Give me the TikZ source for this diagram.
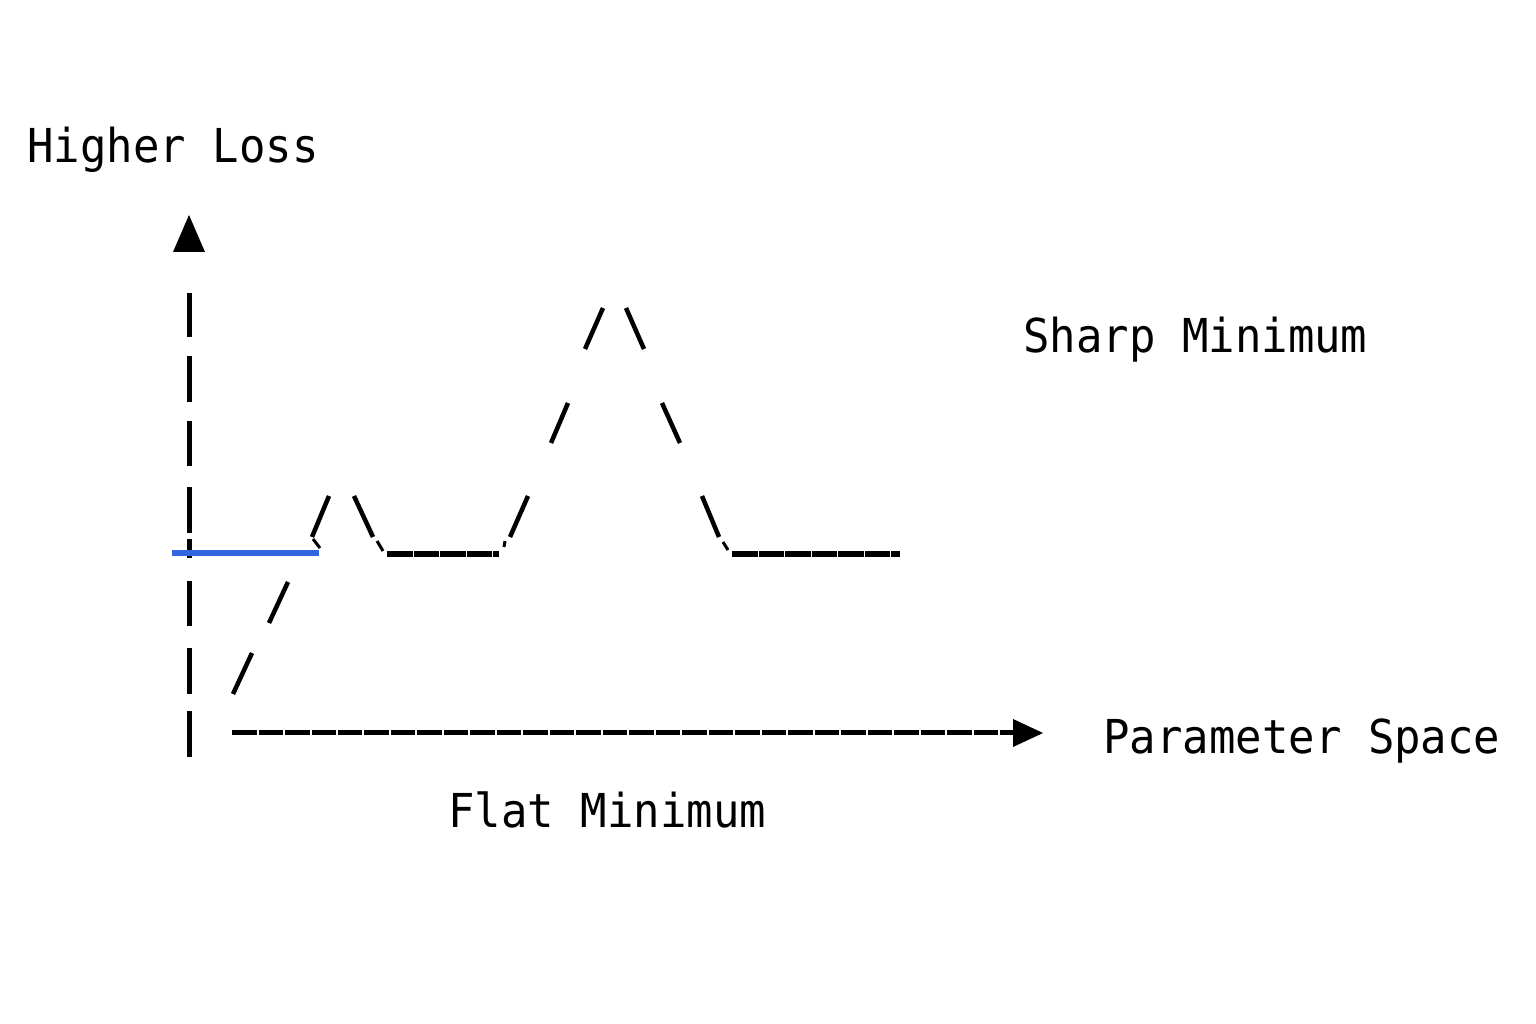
\documentclass[tikz,border=0pt]{standalone}
\usepackage{fontspec}
\setmonofont[FakeStretch=0.94]{DejaVu Sans Mono}
\definecolor{flatblue}{RGB}{50,102,222}
\begin{document}
\begin{tikzpicture}[x=0.1mm,y=-0.1mm,line width=0.5mm,
    txt/.style={font=\ttfamily\fontsize{13.3}{16}\selectfont,inner sep=0,anchor=base west},
    chars/.style={dash pattern=on 2.45mm off 0.2mm},
    lows/.style={line width=0.55mm,dash pattern=on 2.57mm off 0.08mm},
    tick/.style={line width=0.3mm}]
    \useasboundingbox (0,0) rectangle (1536,1024);
    % axes
    \foreach \a/\b in {293/337,356/402,421/466,487/533,539/558,581/626,648/694,711/757} \draw (189,\a)--(189,\b);
    \fill (189,215)--(205,252)--(173,252)--cycle;
    \draw[chars] (232,733)--(1015,733);
    \fill (1043,733)--(1013,719)--(1013,747)--cycle;
    % landscape
    \draw[flatblue,line width=0.55mm] (172,553)--(319,553);
    \draw[lows] (387,554)--(499,554);
    \draw[lows] (732,554)--(900,554);
    \foreach \xa/\ya/\xb/\yb in {329/496/312/537,354/496/373/537,528/496/510/537,702/496/719/537,
        568/403/551/443,662/403/680/443,603/308/585/349,626/308/644/349,288/582/269/623,252/653/233/694}
      \draw[line width=0.45mm] (\xa,\ya)--(\xb,\yb);
    \foreach \xa/\ya/\xb/\yb in {313/539/320/548,377/541/383/551,505/541/504/547,723/542/728/550}
      \draw[tick] (\xa,\ya)--(\xb,\yb);
    % labels
    \node[txt] (loss) at (25,163) {Higher Loss};
    \node[txt] (sharp) at (1021,353) {Sharp Minimum};
    \node[txt] (param) at (1101,753) {Parameter Space};
    \node[txt] (flat) at (446,827) {Flat Minimum};
\end{tikzpicture}
\end{document}
